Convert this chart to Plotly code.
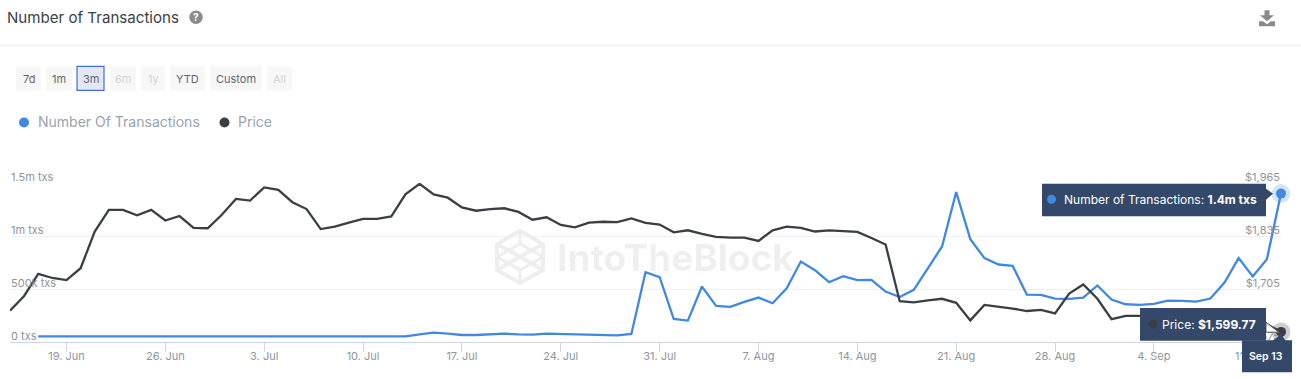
import plotly.graph_objects as go
import pandas as pd

START_DATE = "2023-06-15"
N_DAYS = 91

transactions_k = [None, None] + [54] * 27 + [
    72, 88, 79, 66, 66, 72, 79, 72, 69, 79, 76, 69, 66, 63, 63, 76,
    659, 611, 217, 202, 523, 340, 331, 378, 419, 366, 507, 759, 677, 564, 621, 583, 586, 476, 425,
    492, 703, 901, 1415, 970, 791, 731, 718, 447, 444, 410, 406, 419, 533, 400, 356, 350, 359,
    391, 388, 381, 410, 561, 791, 618, 781, 1400,
]
price = [
    1652, 1688, 1742, 1732, 1727, 1756, 1846, 1899, 1899, 1886, 1899, 1873, 1884, 1855, 1854,
    1887, 1926, 1922, 1954, 1948, 1918, 1901, 1852, 1858, 1868, 1877, 1877, 1883, 1937, 1963,
    1937, 1929, 1905, 1897, 1901, 1903, 1894, 1875, 1881, 1862, 1856, 1868, 1870, 1869, 1878,
    1867, 1863, 1844, 1849, 1840, 1833, 1831, 1831, 1823, 1849, 1858, 1855, 1846, 1849, 1847,
    1845, 1830, 1814, 1675, 1672, 1677, 1681, 1671, 1628, 1666, 1662, 1657, 1651, 1654, 1645,
    1694, 1716, 1681, 1631, 1639, 1639, 1639, 1638, 1636, 1634, 1630, 1628, 1626, 1624, 1618, 1599.77,
]
dates = pd.date_range(START_DATE, periods=N_DAYS, freq="D")
transactions = [None if v is None else v * 1000 for v in transactions_k]

x_tick_dates = ["2023-06-19", "2023-06-26", "2023-07-03", "2023-07-10", "2023-07-17", "2023-07-24",
                "2023-07-31", "2023-08-07", "2023-08-14", "2023-08-21", "2023-08-28", "2023-09-04", "2023-09-11"]
x_tick_labels = ["19. Jun", "26. Jun", "3. Jul", "10. Jul", "17. Jul", "24. Jul",
                 "31. Jul", "7. Aug", "14. Aug", "21. Aug", "28. Aug", "4. Sep", "11. Sep"]
left_ticks = [0, 500000, 1000000, 1500000]
left_labels = ["0 txs", "500k txs", "1m txs", "1.5m txs"]
right_ticks = [1575, 1705, 1835, 1965]
right_labels = ["$1,575", "$1,705", "$1,835", "$1,965"]

BLUE = "#4189e0"
DARK = "#3a3f45"
NAVY = "#34496a"
FONT = "Inter, Noto Sans, sans-serif"
W, H = 1301, 379
L, R, T, B = 10, 20, 183.3, 37.2
PW, PH = W - L - R, H - T - B


def px(x):
    return (x - L) / PW


def py(y):
    return 1 - (y - T) / PH


shapes, annotations = [], []


def rect(x0, y0, x1, y1, fill, line=None, lw=0, layer="above"):
    shapes.append(dict(type="rect", xref="paper", yref="paper", layer=layer,
                       x0=px(x0), x1=px(x1), y0=py(y0), y1=py(y1), fillcolor=fill,
                       line=dict(color=line or fill, width=lw)))


def circle(cx, cy, r, fill):
    shapes.append(dict(type="circle", xref="paper", yref="paper", layer="above",
                       x0=px(cx - r), x1=px(cx + r), y0=py(cy - r), y1=py(cy + r),
                       fillcolor=fill, line=dict(width=0)))


def poly(points, fill=None, line=None, lw=0, layer="above", close=True):
    d = "M " + " L ".join(f"{px(a):.6f},{py(b):.6f}" for a, b in points) + (" Z" if close else "")
    shapes.append(dict(type="path", xref="paper", yref="paper", layer=layer, path=d,
                       fillcolor=fill, line=dict(color=line or "rgba(0,0,0,0)", width=lw)))


def text(x, y, s, size, color, anchor="left", weight=None):
    shift = {"left": -2, "center": 0, "right": 2}[anchor]
    f = dict(family=FONT, size=size, color=color)
    if weight:
        f["weight"] = weight
    annotations.append(dict(xref="paper", yref="paper", x=px(x), y=py(y), text=s, showarrow=False,
                            xanchor=anchor, yanchor="middle", align=anchor, xshift=shift, font=f))


# Header
text(7, 18, "Number of Transactions", 15.1, "#3b4148")
circle(196, 18, 6.7, "#8c8c8c")
text(196, 18, "<b>?</b>", 10, "#ffffff", "center")
shapes.append(dict(type="line", xref="paper", yref="paper", layer="above", x0=px(0), x1=px(W),
                   y0=py(46.5), y1=py(46.5), line=dict(color="#eeeeee", width=1)))
poly([(1264.5, 11), (1269.5, 11), (1269.5, 16), (1274, 16), (1267, 22), (1260, 16), (1264.5, 16)], fill="#8a8a8a")
poly([(1259, 22), (1263, 22), (1267, 25), (1271, 22), (1275, 22), (1275, 27), (1259, 27)], fill="#8a8a8a")

# Range selector
buttons = [("7d", 16, 41, True), ("1m", 46, 72, True), ("3m", 77, 104, True), ("6m", 110, 136, False),
           ("1y", 141, 165, False), ("YTD", 170, 205, True), ("Custom", 210, 262, True), ("All", 267, 292, False)]
for label, x0, x1, enabled in buttons:
    if label == "3m":
        rect(x0, 67, x1, 91, "#e3e8f7", "#3f6fd8", 1.2)
    else:
        rect(x0, 67, x1, 91, "#f7f7f7")
    text((x0 + x1) / 2, 80, label, 11, "#62676d" if enabled else "#d3d5d8", "center")

# Legend
circle(24, 123, 5, BLUE)
text(38, 122, "Number Of Transactions", 14, "#9aa3ad")
circle(224.5, 123, 5, DARK)
text(238, 122, "Price", 14, "#9aa3ad")

# Watermark
WM = "#eeeeee"
hexagon = [(520, 231), (543, 244), (543, 270), (520, 283), (497, 270), (497, 244)]
poly(hexagon, line=WM, lw=4, layer="below")
poly([(497, 244), (543, 270)], line=WM, lw=4, layer="below", close=False)
poly([(543, 244), (497, 270)], line=WM, lw=4, layer="below", close=False)
poly([(520, 231), (520, 244), (497, 257), (520, 270), (520, 283)], line=WM, lw=3, layer="below", close=False)
poly([(520, 244), (543, 257), (520, 270)], line=WM, lw=3, layer="below", close=False)
annotations.append(dict(xref="paper", yref="paper", x=px(555), y=py(258), text="<b>IntoTheBlock</b>", showarrow=False,
                        xanchor="left", yanchor="middle", captureevents=False,
                        font=dict(family=FONT, size=37, color="rgba(0,0,0,0.07)")))

# Tooltips
poly([(1266, 189), (1273, 194), (1266, 200)], fill=NAVY)
rect(1042, 184, 1266, 216.5, NAVY)
circle(1051.5, 199.5, 4.5, BLUE)
text(1064, 199.5, "Number of Transactions: <b>1.4m txs</b>", 12, "#ffffff")

poly([(1266, 322), (1279, 332), (1266, 332)], fill="rgba(255,255,255,0.85)", line=DARK, lw=0.8)
rect(1140, 308, 1266, 340.5, NAVY)
circle(1153, 324, 4.5, DARK)
text(1162, 324, "Price: <b>$1,599.77</b>", 12, "#ffffff")

poly([(1272, 341), (1281, 334), (1286, 341)], fill=NAVY)
rect(1242, 340, 1292, 372, NAVY)
text(1266, 356, "Sep 13", 10.5, "#ffffff", "center", weight=600)

fig = go.Figure()
fig.add_trace(go.Scatter(x=dates, y=transactions, name="Number Of Transactions", mode="lines",
                         line=dict(color=BLUE, width=2.3), connectgaps=False, cliponaxis=False))
fig.add_trace(go.Scatter(x=dates, y=price, name="Price", mode="lines", yaxis="y2",
                         line=dict(color=DARK, width=2.3), cliponaxis=False))
fig.add_trace(go.Scatter(x=dates[-1:], y=transactions[-1:], mode="markers", cliponaxis=False,
                         marker=dict(size=19, color="rgba(66,135,224,0.22)")))
fig.add_trace(go.Scatter(x=dates[-1:], y=transactions[-1:], mode="markers", cliponaxis=False,
                         marker=dict(size=10, color=BLUE)))
fig.add_trace(go.Scatter(x=dates[-1:], y=price[-1:], mode="markers", yaxis="y2", cliponaxis=False,
                         marker=dict(size=19, color="rgba(58,63,69,0.25)")))
fig.add_trace(go.Scatter(x=dates[-1:], y=price[-1:], mode="markers", yaxis="y2", cliponaxis=False,
                         marker=dict(size=10, color=DARK)))

tick_font = dict(family=FONT, size=11, color="#8f959c")
fig.update_layout(
    width=W, height=H, margin=dict(l=L, r=R, t=T, b=B, pad=0, autoexpand=False),
    paper_bgcolor="#ffffff", plot_bgcolor="#ffffff", showlegend=False, hovermode=False,
    shapes=shapes, annotations=annotations, font=dict(family=FONT),
    xaxis=dict(type="date", range=[dates[0], dates[-1]], tickvals=x_tick_dates, ticktext=x_tick_labels,
               showgrid=False, zeroline=False, showline=True, linecolor="#ccd6eb", linewidth=1,
               ticks="outside", ticklen=9, tickcolor="#ccd6eb", tickwidth=1, tickfont=tick_font,
               ticklabelstandoff=-5, ticklabeloverflow="allow"),
    yaxis=dict(range=[0, 1500000], tickvals=left_ticks, ticktext=left_labels, showgrid=True,
               gridcolor="#f0f0f0", gridwidth=1, zeroline=False, showline=False, ticks="",
               ticklabelposition="inside", tickfont=tick_font, ticklabelshift=-6, ticklabelstandoff=-2,
               ticklabeloverflow="allow"),
    yaxis2=dict(range=[1575, 1965], overlaying="y", side="right", tickvals=right_ticks, ticktext=right_labels,
                showgrid=False, zeroline=False, showline=False, ticks="", ticklabelposition="inside",
                tickfont=tick_font, ticklabelshift=-6, ticklabelstandoff=-2, ticklabeloverflow="allow"),
)
fig.write_html("out.html", config={"displayModeBar": False},
               post_script="document.body.style.margin='0';")
